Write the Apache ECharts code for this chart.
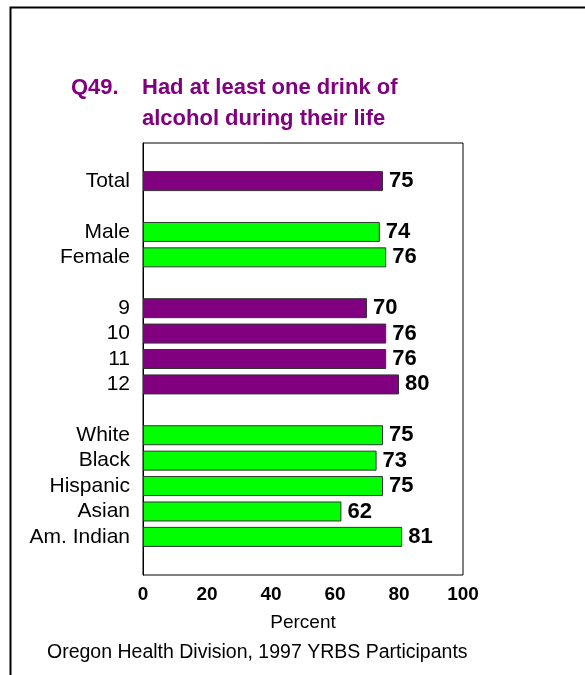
<!DOCTYPE html>
<html>
<head>
<meta charset="utf-8">
<script src="https://cdn.jsdelivr.net/npm/echarts@6/dist/echarts.min.js"></script>
<style>
html,body{margin:0;padding:0;background:#fff;}
#chart{width:585px;height:675px;}
</style>
</head>
<body>
<div id="chart"></div>
<script>
// Categories (blank entries are spacer rows between groups)
var categories = ['', 'Total', ' ', 'Male', 'Female', '  ', '9', '10', '11', '12', '   ', 'White', 'Black', 'Hispanic', 'Asian', 'Am. Indian', '    '];
// Percent who had at least one drink of alcohol during their life
var values = [null, 75, null, 74, 76, null, 70, 76, 76, 80, null, 75, 73, 75, 62, 81, null];
// Group of each row (drives the colour)
var groups = [null, 'total', null, 'sex', 'sex', null, 'grade', 'grade', 'grade', 'grade', null, 'race', 'race', 'race', 'race', 'race', null];
var xTicks = [0, 20, 40, 60, 80, 100];

var groupColors = { total: '#800080', grade: '#800080', sex: '#00FF00', race: '#00FF00' };
var FONT = '"Liberation Sans", Arial, Helvetica, sans-serif';

var barData = values.map(function (v, i) {
  if (v === null) return '-';
  return { value: v, itemStyle: { color: groupColors[groups[i]] } };
});

var chart = echarts.init(document.getElementById('chart'), null, { renderer: 'canvas' });
chart.setOption({
  backgroundColor: '#ffffff',
  animation: false,
  title: [
    {
      text: 'Q49.',
      left: 66, top: 67,
      textStyle: { color: '#800080', fontFamily: FONT, fontSize: 22, fontWeight: 'bold', lineHeight: 31 }
    },
    {
      text: 'Had at least one drink of\nalcohol during their life',
      left: 137, top: 67,
      textStyle: { color: '#800080', fontFamily: FONT, fontSize: 22, fontWeight: 'bold', lineHeight: 31 }
    }
  ],
  graphic: [
    {
      type: 'rect', left: 8, top: 5, silent: true,
      shape: { x: 0, y: 0, width: 620, height: 720 },
      style: { fill: 'none', stroke: '#000', lineWidth: 2 }
    },
    {
      type: 'text', left: 47, top: 643,
      style: { text: 'Oregon Health Division, 1997 YRBS Participants', fill: '#000', font: '19.5px ' + FONT }
    }
  ],
  grid: {
    left: 143, right: 122, top: 143, bottom: 100,
    show: true, borderColor: '#000', borderWidth: 1, backgroundColor: '#fff'
  },
  xAxis: {
    type: 'value', min: 0, max: 100, interval: 20,
    name: 'Percent', nameLocation: 'middle', nameGap: 38,
    nameTextStyle: { color: '#000', fontFamily: FONT, fontSize: 19 },
    axisLine: { show: false }, axisTick: { show: false }, splitLine: { show: false },
    axisLabel: {
      margin: 10, color: '#000', fontFamily: FONT, fontSize: 19, fontWeight: 'bold',
      formatter: function (v) { return xTicks.indexOf(v) >= 0 ? String(v) : ''; }
    }
  },
  yAxis: {
    type: 'category', data: categories, inverse: true,
    axisLine: { show: true, lineStyle: { color: '#000', width: 1 } },
    axisTick: { show: false },
    axisLabel: { margin: 13, color: '#000', fontFamily: FONT, fontSize: 21, interval: 0 }
  },
  series: [{
    type: 'bar',
    data: barData,
    barWidth: 20,
    itemStyle: { borderColor: '#333', borderWidth: 1 },
    label: {
      show: true, position: 'right', distance: 6,
      color: '#000', fontFamily: FONT, fontSize: 22, fontWeight: 'bold'
    }
  }]
});
</script>
</body>
</html>
